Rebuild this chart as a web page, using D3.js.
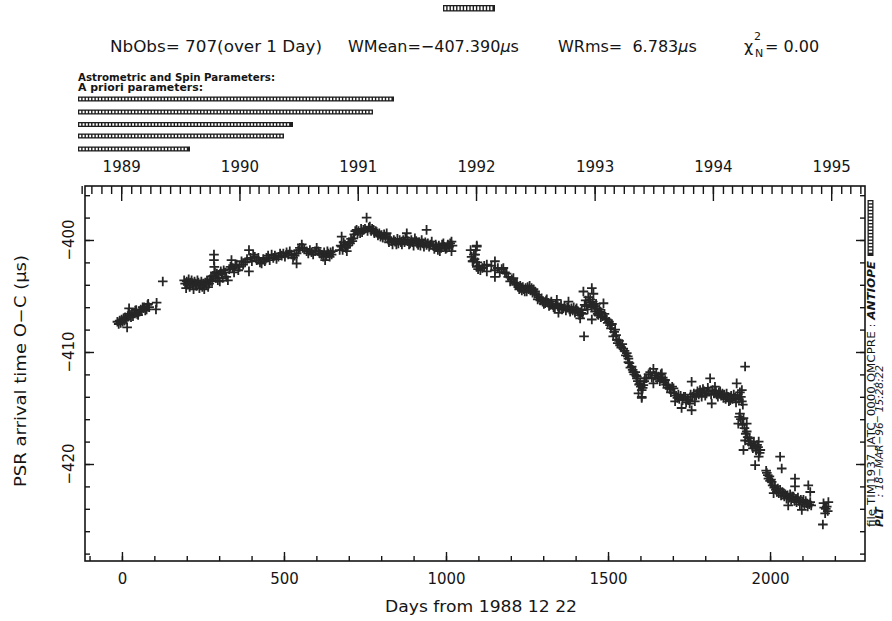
<!DOCTYPE html>
<html><head><meta charset="utf-8">
<script src="https://cdn.jsdelivr.net/npm/d3@7"></script>
<style>body{margin:0;background:#fff}svg{display:block}text{font-family:"DejaVu Sans",sans-serif;fill:#151515}</style>
</head><body>
<script>
// ---- Data: [days from 1988-12-22, O-C residual in microseconds] ----
const season1989a = [[-14,-407.3],[-10,-407.5],[-7,-407.2],[-4,-407.4],[-1,-407.1],[2,-407.3],[5,-407.0],[8,-407.2],[10,-406.9],[13,-407.1],[16,-407.8],[18,-406.8],[20,-406.6],[22,-406.1],[25,-406.7],[28,-406.9],[31,-406.5],[34,-406.8],[38,-406.5],[41,-406.3],[44,-406.25],[47,-406.6],[50,-406.7],[54,-406.4],[58,-406.2],[61,-406.3],[64,-406.0],[67,-406.1],[69,-406.0],[72,-406.3],[76,-406.2],[79,-405.8],[81,-405.7],[84,-406.0],[105,-406.2],[107,-405.6],[126,-403.7]];
const season1989b = [[192,-403.6],[195,-403.9],[198,-404.3],[200,-403.7],[203,-404.0],[206,-403.5],[209,-404.2],[212,-403.8],[215,-403.6],[218,-404.0],[221,-404.4],[224,-403.7],[227,-403.9],[230,-404.1],[233,-403.6],[236,-403.8],[239,-404.3],[242,-404.0],[245,-403.7],[248,-404.2],[251,-403.9],[254,-404.4],[257,-403.8],[260,-404.0],[263,-403.6],[266,-404.2],[269,-403.9],[272,-403.5],[275,-403.3],[278,-403.7],[281,-403.2],[284,-401.3],[284,-401.8],[285,-402.4],[287,-402.9],[290,-403.4],[293,-403.0],[296,-403.6],[299,-403.1],[302,-403.7],[305,-402.8],[308,-403.0],[311,-403.4],[314,-402.7],[318,-402.9],[322,-403.3],[327,-403.6],[331,-402.6],[335,-402.4],[338,-401.8],[342,-402.5],[346,-402.9],[350,-402.3],[354,-402.2],[359,-402.7],[363,-402.4],[369,-401.9],[374,-402.2],[380,-402.0],[386,-401.7],[392,-402.8],[392,-400.9],[397,-401.6],[401,-401.9],[405,-401.3],[410,-401.5],[416,-401.8],[421,-401.6],[426,-402.0],[431,-402.1],[436,-401.7],[441,-401.9],[446,-401.6],[451,-401.4],[456,-401.8],[462,-401.3],[467,-401.6],[472,-401.4],[477,-401.7],[483,-401.5],[488,-401.2],[493,-401.4],[498,-401.2],[503,-401.5],[508,-401.1],[513,-401.3],[518,-401.0],[523,-401.3],[528,-401.6],[533,-401.4],[539,-402.1],[539,-401.2],[544,-400.9],[549,-400.7],[555,-400.4],[558,-400.7]];
const season1990 = [[563,-400.8],[570,-401.0],[575,-401.2],[580,-400.9],[585,-401.1],[590,-401.3],[596,-401.0],[601,-400.7],[606,-401.0],[611,-401.2],[616,-401.3],[621,-401.5],[624,-401.1],[627,-401.8],[631,-401.4],[634,-401.0],[637,-401.2],[641,-401.5],[644,-401.1],[647,-401.3],[651,-401.0],[672,-400.9],[675,-400.5],[678,-399.7],[678,-400.6],[681,-400.9],[684,-400.2],[688,-400.4],[691,-400.7],[694,-401.0],[697,-400.5],[700,-400.2],[704,-400.3],[707,-399.9],[711,-400.1],[714,-399.85],[717,-399.5],[720,-399.2],[724,-399.1],[727,-399.4],[730,-399.2],[735,-399.4],[738,-399.0],[741,-399.3],[745,-399.1],[750,-399.0],[755,-398.0],[758,-399.2],[762,-398.9],[765,-398.8],[769,-399.2],[772,-399.0],[776,-399.1],[779,-399.4],[783,-399.2],[786,-399.3],[790,-399.6],[794,-399.4],[798,-399.7],[801,-399.55],[805,-399.8],[809,-399.5],[813,-399.7],[817,-399.4],[821,-399.9],[824,-400.2],[827,-399.85],[831,-400.1],[835,-400.4],[839,-400.0],[843,-400.15],[847,-400.4],[850,-399.9],[853,-400.3],[857,-400.0],[861,-400.2],[864,-400.4],[868,-400.0],[872,-400.2],[875,-399.8],[879,-399.4],[882,-400.1],[886,-400.4],[889,-400.3],[893,-400.0],[897,-400.2],[900,-400.5],[904,-399.85],[908,-400.1],[911,-400.3],[914,-400.45],[918,-400.2],[921,-400.5],[925,-400.0],[929,-400.3],[932,-400.6],[936,-400.2],[940,-399.1],[940,-400.45],[944,-400.3],[948,-400.6],[952,-400.4],[956,-400.15],[960,-400.5],[964,-400.8],[968,-400.4],[971,-400.6],[975,-400.9],[978,-400.5],[981,-401.0],[985,-400.7],[988,-400.4],[992,-400.3],[995,-400.6],[999,-400.8],[1002,-400.7],[1006,-400.4],[1010,-400.6],[1013,-400.3],[1017,-400.15],[1017,-401.0],[1020,-400.5]];
const season1992 = [[1076,-400.9],[1079,-401.5],[1082,-401.9],[1084,-401.9],[1086,-401.3],[1088,-401.7],[1090,-401.3],[1092,-400.9],[1095,-400.5],[1095,-400.6],[1095,-402.4],[1097,-402.0],[1099,-402.6],[1102,-402.3],[1106,-402.7],[1112,-402.5],[1118,-402.3],[1126,-402.2],[1126,-402.8],[1140,-402.3],[1151,-401.9],[1151,-402.7],[1151,-403.3],[1160,-402.5],[1166,-402.9],[1172,-402.6],[1177,-402.5],[1182,-402.9],[1187,-403.0],[1192,-403.3],[1198,-403.7],[1203,-403.5],[1208,-403.4],[1212,-403.8],[1216,-404.0],[1219,-403.9],[1223,-404.2],[1226,-404.4],[1229,-404.1],[1232,-404.3],[1234,-404.5],[1237,-404.2],[1240,-404.4],[1243,-404.6],[1246,-404.3],[1249,-404.6],[1252,-404.2],[1255,-404.4],[1258,-404.1],[1261,-404.5],[1264,-404.3],[1267,-404.7],[1270,-404.4],[1273,-404.8],[1275,-404.6],[1280,-404.9],[1283,-405.3],[1287,-405.1],[1291,-405.4],[1295,-405.2],[1298,-405.5],[1302,-405.7],[1306,-405.65],[1309,-405.4],[1311,-405.3],[1315,-405.6],[1318,-405.9],[1321,-405.8],[1325,-405.5],[1329,-405.8],[1332,-406.0],[1336,-406.1],[1339,-405.7],[1342,-405.35],[1345,-405.9],[1347,-406.5],[1351,-406.0],[1355,-405.8],[1358,-406.2],[1362,-406.1],[1366,-405.9],[1370,-406.3],[1374,-406.0],[1378,-405.5],[1381,-406.2],[1383,-406.4],[1387,-406.1],[1391,-406.3],[1394,-406.0],[1398,-406.5],[1401,-406.2],[1403,-406.1],[1407,-406.4],[1411,-406.7],[1414,-407.0],[1417,-406.5],[1419,-406.25],[1422,-406.6]];
const season1993 = [[1424,-404.6],[1426,-408.6],[1428,-405.8],[1431,-405.4],[1434,-405.9],[1437,-406.2],[1439,-405.1],[1442,-405.6],[1445,-405.3],[1448,-405.8],[1450,-404.3],[1450,-406.0],[1450,-407.1],[1453,-405.5],[1455,-404.8],[1457,-405.9],[1460,-406.4],[1463,-405.7],[1466,-406.1],[1468,-406.6],[1470,-406.7],[1473,-406.2],[1476,-406.4],[1478,-406.9],[1480,-406.5],[1483,-406.8],[1486,-405.65],[1489,-406.6],[1492,-407.0],[1496,-407.1],[1499,-407.4],[1503,-407.3],[1506,-407.6],[1509,-407.9],[1512,-407.5],[1516,-408.6],[1519,-408.2],[1522,-408.0],[1525,-408.5],[1527,-408.9],[1530,-409.2],[1534,-409.0],[1537,-409.4],[1541,-409.6],[1544,-409.3],[1547,-409.7],[1551,-409.9],[1555,-410.3],[1558,-410.1],[1561,-410.4],[1563,-410.6],[1563,-410.9],[1566,-411.0],[1569,-411.4],[1573,-411.3],[1576,-411.6],[1578,-411.8],[1581,-412.0],[1584,-411.8],[1587,-412.1],[1589,-412.2],[1589,-412.35],[1592,-412.6],[1594,-413.7],[1596,-412.9],[1599,-412.8],[1601,-413.1],[1604,-413.4],[1604,-414.0],[1604,-414.1],[1607,-413.2],[1609,-412.95],[1612,-412.6],[1614,-412.35],[1619,-412.35]];
const season1994 = [[1625,-412.0],[1630,-411.8],[1635,-412.3],[1640,-411.5],[1640,-412.8],[1645,-412.1],[1649,-411.9],[1652,-412.4],[1656,-412.2],[1660,-412.6],[1663,-412.0],[1666,-411.9],[1669,-412.3],[1672,-412.7],[1676,-412.5],[1679,-412.9],[1683,-413.2],[1686,-412.95],[1690,-413.3],[1694,-413.6],[1698,-413.1],[1702,-413.25],[1705,-413.7],[1707,-414.4],[1710,-413.9],[1714,-414.1],[1717,-413.8],[1720,-414.2],[1724,-413.9],[1727,-415.0],[1730,-414.3],[1734,-414.0],[1738,-414.0],[1741,-414.5],[1745,-414.2],[1748,-414.3],[1752,-414.6],[1755,-413.8],[1758,-412.65],[1758,-415.2],[1761,-414.0],[1765,-413.7],[1768,-414.4],[1772,-413.9],[1776,-413.5],[1780,-413.8],[1784,-413.4],[1787,-413.6],[1789,-414.0],[1793,-413.3],[1797,-413.5],[1800,-413.9],[1804,-413.7],[1808,-413.2],[1811,-413.5],[1815,-412.35],[1818,-413.8],[1820,-414.6],[1823,-413.4],[1827,-413.7],[1830,-413.1],[1833,-413.5],[1835,-413.8],[1839,-414.0],[1842,-413.6],[1846,-413.5],[1849,-413.9],[1853,-413.7],[1856,-414.1],[1859,-413.8],[1863,-414.2],[1866,-413.7],[1870,-414.0],[1873,-414.4],[1877,-414.3],[1880,-413.9],[1884,-414.2],[1888,-413.8],[1892,-414.1],[1895,-414.5],[1897,-412.8],[1900,-413.9],[1904,-414.2],[1907,-413.6],[1910,-414.0],[1913,-413.4],[1913,-414.4],[1916,-414.7],[1923,-411.3]];
const season1994b = [[1902,-416.4],[1905,-415.8],[1907,-415.5],[1910,-416.0],[1915,-416.5],[1918,-415.9],[1921,-416.8],[1923,-417.9],[1925,-417.3],[1928,-416.4],[1928,-417.1],[1931,-417.6],[1934,-418.0],[1937,-417.7],[1940,-418.2],[1944,-418.3],[1947,-418.6],[1950,-418.0],[1954,-418.45],[1957,-418.8],[1960,-418.3],[1963,-418.5],[1965,-418.0],[1968,-419.0],[1970,-418.75],[1918,-418.75],[1954,-420.1],[1965,-419.35]];
const season1995 = [[1988,-420.6],[1990,-420.8],[1993,-421.0],[1995,-421.3],[1998,-421.1],[2000,-421.5],[2003,-421.4],[2005,-421.6],[2008,-421.9],[2011,-422.6],[2013,-422.1],[2015,-422.0],[2018,-422.3],[2021,-422.5],[2024,-422.2],[2027,-422.6],[2031,-419.35],[2031,-422.3],[2034,-422.8],[2036,-420.4],[2038,-422.5],[2041,-422.6],[2044,-422.9],[2047,-422.7],[2051,-423.1],[2054,-422.8],[2056,-423.7],[2059,-423.0],[2062,-422.7],[2065,-423.2],[2068,-422.9],[2072,-422.9],[2075,-423.3],[2077,-421.3],[2077,-422.0],[2080,-423.1],[2082,-423.4],[2086,-423.0],[2089,-423.3],[2092,-423.6],[2095,-423.2],[2098,-424.1],[2101,-423.4],[2103,-423.2],[2106,-423.6],[2110,-423.3],[2113,-423.5],[2116,-423.8],[2118,-421.9],[2121,-423.6],[2124,-422.5],[2124,-423.4],[2127,-423.7],[2163,-425.4],[2165,-423.5],[2167,-423.9],[2170,-424.4],[2172,-424.0],[2175,-423.8],[2178,-424.2],[2180,-423.4]];

const xMajorTicks = [0, 500, 1000, 1500, 2000];
const xMinorTicks = d3.range(-100, 2201, 100);
const yMajorTicks = [-400, -410, -420];
const yMinorTicks = d3.range(-428, -395, 2);
const yearLabels = [1989, 1990, 1991, 1992, 1993, 1994, 1995];
const epoch = Date.UTC(1988, 11, 22);

const headerStats = {nbObs: "NbObs= 707(over 1 Day)", wmean: "WMean=\u2212407.390", wrms: "WRms=  6.783", chi: "= 0.00"};

// ---- Drawing ----
const W = 892, H = 621;
const svg = d3.select("body").append("svg").attr("width", W).attr("height", H);
const ink = "#151515";

const x = d3.scaleLinear().domain([-114, 2293]).range([85, 865]);
const y = d3.scaleLinear().domain([-428.66, -395.18]).range([561, 186]);
const dayMs = 864e5;
const xt = d3.scaleUtc().domain([new Date(epoch - 114 * dayMs), new Date(epoch + 2293 * dayMs)]).range([81, 861]);

function styleAxis(g) {
  g.select(".domain").remove();
  g.selectAll("line").attr("stroke", ink).attr("stroke-width", 1.4);
  g.selectAll("text").attr("font-family", "DejaVu Sans").attr("fill", ink);
}

// bottom axis
svg.append("g").attr("transform", "translate(0,561)")
  .call(d3.axisBottom(x).tickValues(xMinorTicks).tickSize(-5).tickFormat("")).call(styleAxis);
svg.append("g").attr("transform", "translate(0,561)")
  .call(d3.axisBottom(x).tickValues(xMajorTicks).tickSize(-9).tickPadding(12).tickFormat(d3.format("d")))
  .call(styleAxis).call(g => g.selectAll("text").attr("font-size", 15));

// top axis (calendar)
const months = d3.utcMonth.range(xt.domain()[0], xt.domain()[1]);
const yearDates = yearLabels.map(yv => new Date(Date.UTC(yv, 0, 1)));
svg.append("g").attr("transform", "translate(0,186)")
  .call(d3.axisTop(xt).tickValues(months).tickSize(-8).tickFormat("")).call(styleAxis);
svg.append("g").attr("transform", "translate(0,186)")
  .call(d3.axisTop(xt).tickValues(yearDates).tickSize(-15).tickPadding(14).tickFormat(d3.utcFormat("%Y")))
  .call(styleAxis).call(g => g.selectAll("text").attr("font-size", 15).attr("dy", "0"));

// left axis
svg.append("g").attr("transform", "translate(85,0)")
  .call(d3.axisLeft(y).tickValues(yMinorTicks).tickSize(-5).tickFormat("")).call(styleAxis);
svg.append("g").attr("transform", "translate(85,0)")
  .call(d3.axisLeft(y).tickValues(yMajorTicks).tickSize(-9).tickFormat("")).call(styleAxis);
svg.selectAll("text.ylab").data(yMajorTicks).join("text").attr("class", "ylab")
  .attr("transform", d => `translate(74,${y(d)}) rotate(-90)`)
  .attr("text-anchor", "middle").attr("font-size", 15).text(d => d3.format("d")(d).replace("-", "\u2212"));

// right axis
svg.append("g").attr("transform", "translate(865,0)")
  .call(d3.axisRight(y).tickValues(yMinorTicks).tickSize(-5).tickFormat("")).call(styleAxis);
svg.append("g").attr("transform", "translate(865,0)")
  .call(d3.axisRight(y).tickValues(yMajorTicks).tickSize(-9).tickFormat("")).call(styleAxis);

// frame
svg.append("rect").attr("x", 85).attr("y", 186).attr("width", 780).attr("height", 375)
  .attr("fill", "none").attr("stroke", ink).attr("stroke-width", 1.6);

// data markers
const allObs = [].concat(season1989a, season1989b, season1990, season1992, season1993, season1994, season1994b, season1995);
svg.append("g").selectAll("path").data(allObs).join("path")
  .attr("transform", d => `translate(${x(d[0])},${y(d[1])})`)
  .attr("d", "M-4.8,0H4.8M0,-4.8V4.8")
  .attr("stroke", "#262626").attr("stroke-width", 1.8).attr("fill", "none");

// axis titles
svg.append("text").attr("x", 481).attr("y", 612).attr("text-anchor", "middle").attr("font-size", 15.5)
  .attr("textLength", 192).attr("lengthAdjust", "spacingAndGlyphs").text("Days from 1988 12 22");
svg.append("text").attr("transform", "translate(26,371) rotate(-90)").attr("text-anchor", "middle")
  .attr("font-size", 15.5).attr("textLength", 232).attr("lengthAdjust", "spacingAndGlyphs")
  .text("PSR arrival time O\u2212C (\u03bcs)");

// header stats
const hdr = svg.append("g").attr("font-size", 16);
hdr.append("text").attr("x", 110).attr("y", 52).attr("textLength", 212).attr("lengthAdjust", "spacingAndGlyphs").text(headerStats.nbObs);
const t2 = hdr.append("text").attr("x", 348).attr("y", 52);
t2.append("tspan").text(headerStats.wmean);
t2.append("tspan").attr("font-style", "italic").text("\u03bc");
t2.append("tspan").text("s");
const t3 = hdr.append("text").attr("x", 558).attr("y", 52).attr("xml:space", "preserve").style("white-space", "pre");
t3.append("tspan").text(headerStats.wrms);
t3.append("tspan").attr("font-style", "italic").text("\u03bc");
t3.append("tspan").text("s");
hdr.append("text").attr("x", 744).attr("y", 52).text("\u03c7");
hdr.append("text").attr("x", 754).attr("y", 40).attr("font-size", 11).text("2");
hdr.append("text").attr("x", 755).attr("y", 57).attr("font-size", 11).text("N");
hdr.append("text").attr("x", 765).attr("y", 52).text(headerStats.chi);

// parameter captions
svg.append("text").attr("x", 78).attr("y", 80.5).attr("font-size", 10.5).attr("font-weight", "bold")
  .attr("textLength", 197).attr("lengthAdjust", "spacingAndGlyphs").text("Astrometric and Spin Parameters:");
svg.append("text").attr("x", 78).attr("y", 91).attr("font-size", 10.5).attr("font-weight", "bold")
  .attr("textLength", 125).attr("lengthAdjust", "spacingAndGlyphs").text("A priori parameters:");

// chain-pattern bars (masked strings in the original plot)
function chainBar(x0, y0, w, h) {
  const g = svg.append("g");
  g.append("rect").attr("x", x0).attr("y", y0).attr("width", w).attr("height", h).attr("fill", "#1e1e1e");
  const step = 3.3, n = Math.floor((w - 1.2) / step);
  g.selectAll("rect.c").data(d3.range(n)).join("rect").attr("class", "c")
    .attr("x", i => x0 + 1.3 + i * step).attr("y", y0 + 1.3)
    .attr("width", 1.9).attr("height", h - 2.6).attr("fill", "#fff");
}
function chainBarV(x0, y0, w, h) {
  const g = svg.append("g");
  g.append("rect").attr("x", x0).attr("y", y0).attr("width", w).attr("height", h).attr("fill", "#1e1e1e");
  const step = 3.3, n = Math.floor((h - 1.2) / step);
  g.selectAll("rect.c").data(d3.range(n)).join("rect").attr("class", "c")
    .attr("x", x0 + 1.3).attr("y", i => y0 + 1.3 + i * step)
    .attr("width", w - 2.6).attr("height", 1.9).attr("fill", "#fff");
}
chainBar(443, 5, 52, 6.5);
chainBar(78, 96.5, 316, 5);
chainBar(78, 109.5, 295, 5);
chainBar(78, 122, 215, 5);
chainBar(78, 133.5, 206, 5);
chainBar(78, 146.5, 112, 5);
chainBarV(867.5, 200, 6, 56);

// right-side file stamp
const r1 = svg.append("text").attr("transform", "translate(875,527) rotate(-90)").attr("font-size", 10)
  .attr("textLength", 266).attr("lengthAdjust", "spacingAndGlyphs");
r1.append("tspan").text("file TIM1937_JATC_0000.OMCPRE : ");
r1.append("tspan").attr("font-style", "italic").attr("font-weight", "bold").text("ANTIOPE");
const r2 = svg.append("text").attr("transform", "translate(883,527) rotate(-90)").attr("font-size", 10).attr("font-style", "italic")
  .attr("textLength", 162).attr("lengthAdjust", "spacingAndGlyphs").style("white-space", "pre");
r2.append("tspan").attr("font-weight", "bold").text("PLT");
r2.append("tspan").text("   : 18\u2212MAR\u221296   15:28:22");
</script>
</body></html>
